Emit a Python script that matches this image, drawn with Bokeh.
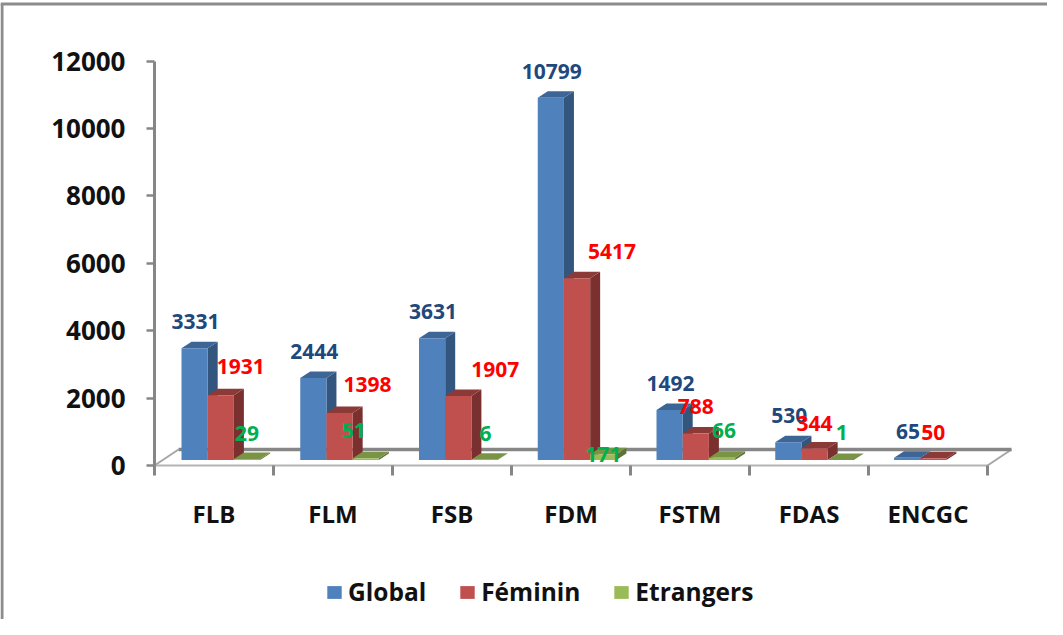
from bokeh.plotting import figure
from bokeh.models import (ColumnDataSource, LinearAxis, FixedTicker, Legend, LegendItem, Range1d)
from bokeh.core.properties import value
from bokeh.embed import file_html
from bokeh.resources import INLINE
import numpy as np

categories = ["FLB", "FLM", "FSB", "FDM", "FSTM", "FDAS", "ENCGC"]
series_names = ["Global", "Féminin", "Etrangers"]
global_values = [3331, 2444, 3631, 10799, 1492, 530, 65]
feminin_values = [1931, 1398, 1907, 5417, 788, 344, 50]
etrangers_values = [29, 51, 6, 171, 66, 1, None]
y_ticks = [0, 2000, 4000, 6000, 8000, 10000, 12000]

# label nudges in screen pixels (x right, y up)
red_dx = [20, 28, 37, 35, 0, 0, 0]
red_dy = [29, 29, 27, 27, 27, 25, 26]
green_dx = [0, -12, 1, 0, 2, 1, 0]
green_dy = [26, 28, 26, 0, 27, 27, 26]

FONT = "Open Sans"
W, H = 1047, 619
PX_LEFT, PX_TOP = 8, 8          # page offset of the figure
AX_X, AX_Y0, AX_Y12 = 162, 473, 68.5   # page pixels of the axis corners
CAT_W = 119.0
PY = (AX_Y0 - AX_Y12) / 12000.0  # px per unit

def xd(dpx):
    return dpx / CAT_W
def yd(dpx):
    return dpx / PY

x_range = Range1d((PX_LEFT - AX_X) / CAT_W, (PX_LEFT + W - AX_X) / CAT_W)
y_range = Range1d((AX_Y0 - (PX_TOP + H)) / PY, (AX_Y0 - PX_TOP) / PY)

p = figure(width=W, height=H, output_backend="svg", toolbar_location=None,
           x_range=x_range, y_range=y_range, x_axis_type=None, y_axis_type=None,
           min_border=0, outline_line_color=None, background_fill_color="white",
           border_fill_color="white")
p.grid.visible = False

GREY = "#868686"
# chart border (top and left edges, running off the page)
p.segment(x0=[x_range.start, x_range.start + xd(1.5)], y0=[y_range.end - yd(3.5), y_range.end - yd(3.5)],
          x1=[x_range.end, x_range.start + xd(1.5)], y1=[y_range.end - yd(3.5), y_range.start],
          line_color="#8c8c8c", line_width=3)

# floor of the 3-D chart
BACK = yd(16)
DEPTH_X = xd(24)
n = len(categories)
p.line([0, DEPTH_X], [0, BACK], line_color="#a6a6a6", line_width=2)
p.line([n, n + DEPTH_X], [0, BACK], line_color="#a6a6a6", line_width=2)
p.line([DEPTH_X, n + DEPTH_X], [BACK, BACK], line_color=GREY, line_width=3.5)
p.line([0, n], [0, 0], line_color="#b4b4b4", line_width=2)

# 3-D bars
BAR_W = 26.2 / CAT_W
FIRST = (189 - AX_X) / CAT_W
BASE = yd(5.5)
KY = 0.995
DX, DY = xd(10), yd(6.5)
face = ["#4F81BD", "#C0504D", "#9BBB59"]
top = ["#3D6697", "#8C3A38", "#7A9445"]
side = ["#33567F", "#7A302E", "#5F7336"]
all_series = [global_values, feminin_values, etrangers_values]
front_renderers = []
geom = {}
for j, vals in enumerate(all_series):
    keep = [i for i, v in enumerate(vals) if v is not None]
    v = np.array([vals[i] for i in keep], dtype=float)
    left = np.array([FIRST + (118.75 / CAT_W) * i + j * BAR_W for i in keep])
    right = left + BAR_W
    ytop = BASE + v * KY
    side_x = [[r, r + DX, r + DX, r] for r in right]
    side_y = [[BASE, BASE + DY, t + DY, t] for t in ytop]
    top_x = [[l, l + DX, r + DX, r] for l, r in zip(left, right)]
    top_y = [[t, t + DY, t + DY, t] for t in ytop]
    p.patches(side_x, side_y, fill_color=side[j], line_color=None)
    p.patches(top_x, top_y, fill_color=top[j], line_color=None)
    r = p.quad(left=left, right=right, bottom=BASE, top=ytop, fill_color=face[j], line_color=None)
    front_renderers.append(r)
    geom[j] = (keep, (left + right) / 2, ytop)

# data labels
label_colors = ["#1F497D", "#FF0000", "#00B050"]
dxs = [[1] * n, red_dx, green_dx]
dys = [[26.5] * n, red_dy, green_dy]
for j, vals in enumerate(all_series):
    keep, cx, ytop = geom[j]
    src = ColumnDataSource(dict(
        x=cx, y=ytop, t=[str(vals[i]) for i in keep],
        xo=[dxs[j][i] for i in keep], yo=[-dys[j][i] for i in keep]))
    p.text(x="x", y="y", text="t", x_offset="xo", y_offset="yo", source=src,
           text_align="center", text_baseline="middle", text_color=label_colors[j],
           text_font=value(FONT), text_font_size="21px", text_font_style="bold")

# value axis
yax = LinearAxis(fixed_location=0, ticker=FixedTicker(ticks=y_ticks), bounds=(0, 12000))
yax.axis_line_color = GREY
yax.axis_line_width = 3
yax.major_tick_line_color = GREY
yax.major_tick_line_width = 2.5
yax.major_tick_in = 0
yax.major_tick_out = 8
yax.minor_tick_line_color = None
yax.major_label_standoff = 21
yax.major_label_text_font = FONT
yax.major_label_text_font_size = "26px"
yax.major_label_text_color = "#111111"
yax.major_label_text_font_style = "bold"
yax.formatter.use_scientific = False
p.add_layout(yax, "left")

# category axis: labels at the centres, ticks at the boundaries
catax = LinearAxis(fixed_location=0,
                   ticker=FixedTicker(ticks=[i + 0.5 for i in range(n)],
                                      minor_ticks=list(range(n + 1))),
                   major_label_overrides={i + 0.5: c for i, c in enumerate(categories)})
catax.axis_line_color = None
catax.major_tick_line_color = None
catax.minor_tick_line_color = GREY
catax.minor_tick_line_width = 3
catax.minor_tick_in = 0
catax.minor_tick_out = 10
catax.major_tick_in = 0
catax.major_tick_out = 0
catax.major_label_standoff = 21
catax.major_label_text_font = FONT
catax.major_label_text_font_size = "24px"
catax.major_label_text_font_style = "bold"
catax.major_label_text_color = "#111111"
p.add_layout(catax, "below")

legend = Legend(items=[LegendItem(label=s, renderers=[r]) for s, r in zip(series_names, front_renderers)],
                orientation="horizontal", location=(325, 11), border_line_color=None,
                background_fill_alpha=0, glyph_width=18, glyph_height=16, label_standoff=5,
                spacing=32, label_text_font=FONT, label_text_font_size="24.5px",
                label_text_font_style="bold",
                label_text_color="#111111", label_height=20, margin=0, padding=0)
p.add_layout(legend, "center")

open("out.html", "w").write(file_html(p, INLINE))
